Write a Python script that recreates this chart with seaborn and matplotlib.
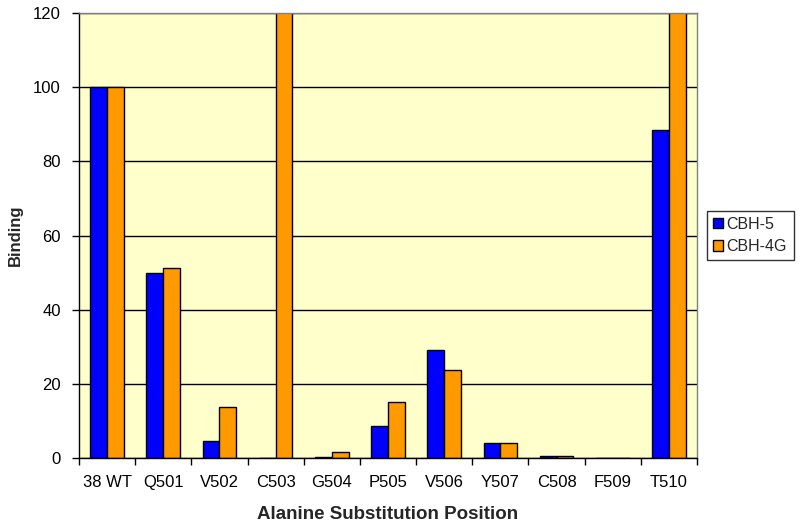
import numpy as np
import pandas as pd
import matplotlib
matplotlib.use("Agg")
import matplotlib.pyplot as plt
import seaborn as sns

positions = ["38 WT", "Q501", "V502", "C503", "G504", "P505",
             "V506", "Y507", "C508", "F509", "T510"]
cbh5 = [100, 50, 4.6, 0, 0.3, 8.6, 29.1, 4.0, 0.5, 0, 88.5]
cbh4g = [100, 51.3, 13.8, 130, 1.6, 15.1, 23.7, 4.0, 0.5, 0, 130]
series_names = ["CBH-5", "CBH-4G"]
colors = ["#0000FF", "#FF9900"]

sns.set_style("white")
plt.rcParams["font.family"] = ["Liberation Sans", "DejaVu Sans"]

df = pd.DataFrame({
    "position": positions * 2,
    "binding": cbh5 + cbh4g,
    "series": [series_names[0]] * len(positions) + [series_names[1]] * len(positions),
})

fig = plt.figure(figsize=(8, 5.29), dpi=100)
ax = fig.add_axes([0.09875, 0.1342, 0.7725, 0.8412])
ax.set_facecolor("#FFFFCC")

sns.barplot(data=df, x="position", y="binding", hue="series", order=positions,
            hue_order=series_names, palette=colors, width=0.6,
            edgecolor="black", linewidth=1.0, saturation=1, ax=ax, legend=True)

ax.set_ylim(0, 120)
ax.set_xlim(-0.5, len(positions) - 0.5)
ax.set_yticks(np.arange(0, 121, 20))
ax.yaxis.grid(True, color="black", linewidth=1)
ax.set_axisbelow(True)

ax.set_xticks(np.arange(len(positions) + 1) - 0.5, minor=True)
ax.tick_params(axis="x", which="major", bottom=True, length=0, labelsize=12, pad=12)
ax.tick_params(axis="x", which="minor", bottom=True, length=5, width=1,
               color="black", direction="out")
ax.tick_params(axis="y", left=True, length=5, width=1, color="black",
               direction="out", labelsize=12, pad=8)
for lab in ax.get_xticklabels() + ax.get_yticklabels():
    lab.set_color("black")

for side in ["left", "bottom"]:
    ax.spines[side].set_color("black")
    ax.spines[side].set_linewidth(1)
for side in ["top", "right"]:
    ax.spines[side].set_color("#808080")
    ax.spines[side].set_linewidth(1)

ax.set_xlabel("Alanine Substitution Position", fontsize=13.5, fontweight="bold", labelpad=12)
ax.set_ylabel("Binding", fontsize=12, fontweight="bold", labelpad=7)

leg = ax.legend(loc="center left", bbox_to_anchor=(1.008, 0.5), fontsize=11.5,
                frameon=True, fancybox=False, edgecolor="black",
                handlelength=0.6, handleheight=0.6, handletextpad=0.25,
                borderpad=0.4, labelspacing=0.45, borderaxespad=0.3)
leg.get_frame().set_linewidth(1)

fig.savefig("out.png", dpi=100)
